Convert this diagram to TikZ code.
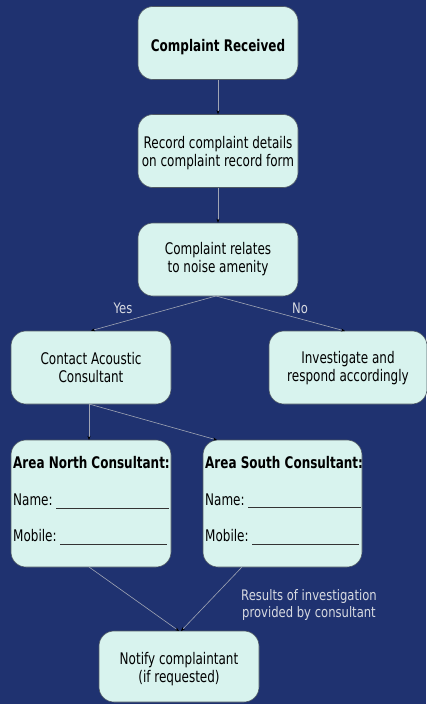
\documentclass[tikz,border=0pt]{standalone}
\usepackage{fontspec}
\setmainfont{DejaVu Sans}[FakeStretch=0.75]
\newfontfamily\labfont{DejaVu Sans}[FakeStretch=0.8]
\usetikzlibrary{arrows.meta,calc}
\definecolor{bgblue}{RGB}{31,50,112}
\definecolor{boxfill}{RGB}{216,243,238}
\definecolor{boxline}{RGB}{80,90,100}
\definecolor{conn}{RGB}{160,165,180}
\definecolor{lbl}{RGB}{215,218,225}
\tikzset{
  flowbox/.style={draw=boxline, line width=0.6pt, fill=boxfill, rounded corners=15pt,
    minimum width=160pt, minimum height=73pt, align=center, inner sep=0pt,
    font=\fontsize{16}{18}\selectfont, text=black},
  areabox/.style={flowbox, minimum height=127pt},
  conn/.style={draw=conn, line width=0.6pt, -{Stealth[length=4pt,width=3pt,color=black]}},
  lab/.style={text=lbl, font=\labfont\fontsize{14.5}{17.7}\selectfont, align=center, inner sep=0pt},
  areatxt/.style={anchor=base west, inner sep=0pt, font=\fontsize{16}{17.5}\selectfont, text=black},
  uline/.style={draw=black!80, line width=0.7pt}
}
\begin{document}
\begin{tikzpicture}[x=1pt,y=-1pt]
\fill[bgblue] (0,0) rectangle (426,704);
\useasboundingbox (0,0) rectangle (426,704);

\node[flowbox, font=\bfseries\fontsize{16}{18}\selectfont] (b1) at (218,43) {\rule{0pt}{19.5pt}Complaint Received};
\node[flowbox] (b2) at (218,151) {\rule{0pt}{16.5pt}Record complaint details\\on complaint record form};
\node[flowbox] (b3) at (218,259.5) {Complaint relates\\to noise amenity};
\node[flowbox] (b4) at (91,367.5) {Contact Acoustic\\Consultant};
\node[flowbox, minimum width=158pt] (b5) at (348,367.5) {\rule{0pt}{13.5pt}Investigate and\\respond accordingly};
\node[areabox] (b6) at (91,503.5) {};
\node[areabox, minimum width=159pt] (b7) at (282.5,503.5) {};
\node[flowbox, minimum height=71pt] (b8) at (179,666.5) {\rule{0pt}{18pt}Notify complaintant\\(if requested)};

% area north text
\node[areatxt, font=\bfseries\fontsize{16}{17.5}\selectfont] (n1) at (13,468.5) {Area North Consultant:};
\node[areatxt] (n2) at (13,505) {Name:};
\node[areatxt] (n3) at (13,541) {Mobile:};
\coordinate (n2a) at (56,508);
\coordinate (n2b) at (169,508);
\coordinate (n3a) at (60,544);
\coordinate (n3b) at (167,544);
\draw[uline] (n2a) -- (n2b);
\draw[uline] (n3a) -- (n3b);

% area south text
\node[areatxt, font=\bfseries\fontsize{16}{17.5}\selectfont] (s1) at (205,468.5) {Area South Consultant:};
\node[areatxt] (s2) at (205,505) {Name:};
\node[areatxt] (s3) at (205,541) {Mobile:};
\coordinate (s2a) at (248,507.5);
\coordinate (s2b) at (361,507.5);
\coordinate (s3a) at (252,544);
\coordinate (s3b) at (359,544);
\draw[uline] (s2a) -- (s2b);
\draw[uline] (s3a) -- (s3b);

% connectors
\draw[conn] (b1.south) -- (b2.north);
\draw[conn] (b2.south) -- (b3.north);
\coordinate (b3s) at (216,296);
\draw[conn] (b3s) -- (b4.north);
\coordinate (b5n) at (345,331);
\draw[conn] (b3s) -- (b5n);
\coordinate (b4s) at (89,404);
\coordinate (b6n) at (89,440);
\coordinate (b7n) at (217,440);
\draw[conn] (b4s) -- (b6n);
\draw[conn] (b4s) -- (b7n);
\coordinate (b6s) at (89,567);
\coordinate (b7s) at (242,567);
\coordinate (b8na) at (179,631);
\coordinate (b8nb) at (181,631);
\draw[conn] (b6s) -- (b8na);
\draw[conn] (b7s) -- (b8nb);

\node[lab] (yes) at (123,308) {Yes};
\node[lab] (no) at (300,308) {No};
\node[lab] (res) at (309,605) {Results of investigation\\provided by consultant};
\end{tikzpicture}
\end{document}
